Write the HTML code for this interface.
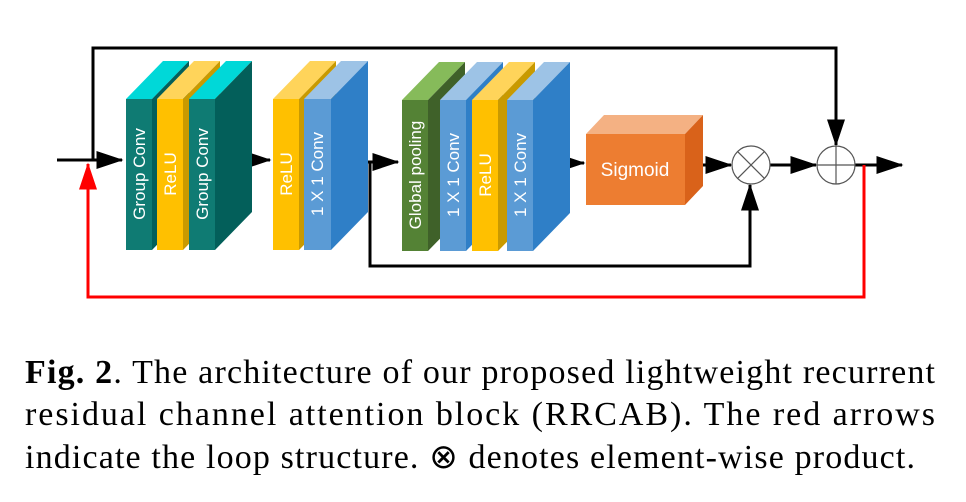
<!DOCTYPE html>
<html><head><style>body{margin:0;background:#fff}svg{display:block}</style></head><body>
<svg width="966" height="502" viewBox="0 0 966 502" xmlns="http://www.w3.org/2000/svg">
<defs>
<marker id="a" markerWidth="9" markerHeight="6" refX="8.5" refY="3" orient="auto" markerUnits="strokeWidth"><path d="M0,0 L9,3 L0,6 z" fill="#000"/></marker>
<marker id="r" markerWidth="9" markerHeight="6" refX="8.5" refY="3" orient="auto" markerUnits="strokeWidth"><path d="M0,0 L9,3 L0,6 z" fill="#f00"/></marker>
</defs>
<g fill="none" stroke-width="3">
<polyline points="93,160 93,48 836,48 836,145" stroke="#000" marker-end="url(#a)"/>
<line x1="57" y1="160" x2="122" y2="160" stroke="#000" marker-end="url(#a)"/>
<line x1="232" y1="160" x2="270" y2="160" stroke="#000" marker-end="url(#a)"/>
<line x1="356" y1="162" x2="398" y2="162" stroke="#000" marker-end="url(#a)"/>
<polyline points="370,162 370,266 750,266 750,185" stroke="#000" marker-end="url(#a)"/>
<line x1="547" y1="163" x2="584" y2="163" stroke="#000" marker-end="url(#a)"/>
<line x1="690" y1="165" x2="731" y2="165" stroke="#000" marker-end="url(#a)"/>
<line x1="770" y1="165" x2="816" y2="165" stroke="#000" marker-end="url(#a)"/>
<line x1="855" y1="165" x2="902" y2="165" stroke="#000" marker-end="url(#a)"/>
<polyline points="864,165 864,297 88,297 88,164" stroke="#f00" marker-end="url(#r)"/>
</g>
<g font-family="Liberation Sans, DejaVu Sans, sans-serif" font-size="17" fill="#fff" text-anchor="middle">
<polygon points="126,99 163,61 189,61 152,99" fill="#00d8d8"/><polygon points="152,99 189,61 189,212 152,250" fill="#035f5a"/><rect x="126" y="99" width="26" height="151" fill="#0f7b73"/>
<text transform="translate(145,174) rotate(-90)">Group Conv</text>
<polygon points="157,99 194,61 220,61 183,99" fill="#ffd45a"/><polygon points="183,99 220,61 220,212 183,250" fill="#c99a00"/><rect x="157" y="99" width="26" height="151" fill="#ffc000"/>
<text transform="translate(176,174) rotate(-90)">ReLU</text>
<polygon points="189,99 226,61 252,61 215,99" fill="#00d8d8"/><polygon points="215,99 252,61 252,212 215,250" fill="#035f5a"/><rect x="189" y="99" width="26" height="151" fill="#0f7b73"/>
<text transform="translate(208,174) rotate(-90)">Group Conv</text>
<polygon points="273,99 310,61 336,61 299,99" fill="#ffd45a"/><polygon points="299,99 336,61 336,212 299,250" fill="#c99a00"/><rect x="273" y="99" width="26" height="151" fill="#ffc000"/>
<text transform="translate(292,174) rotate(-90)">ReLU</text>
<polygon points="304,99 341,61 368,61 331,99" fill="#9dc3e6"/><polygon points="331,99 368,61 368,212 331,250" fill="#2f7fc7"/><rect x="304" y="99" width="27" height="151" fill="#5b9bd5"/>
<text transform="translate(323,174) rotate(-90)">1 X 1 Conv</text>
<polygon points="402,100 439,62 465,62 428,100" fill="#86bb5a"/><polygon points="428,100 465,62 465,213 428,251" fill="#3f6129"/><rect x="402" y="100" width="26" height="151" fill="#548235"/>
<text transform="translate(421,175) rotate(-90)">Global pooling</text>
<polygon points="440,100 477,62 503,62 466,100" fill="#9dc3e6"/><polygon points="466,100 503,62 503,213 466,251" fill="#2f7fc7"/><rect x="440" y="100" width="26" height="151" fill="#5b9bd5"/>
<text transform="translate(459,175) rotate(-90)">1 X 1 Conv</text>
<polygon points="472,100 509,62 535,62 498,100" fill="#ffd45a"/><polygon points="498,100 535,62 535,213 498,251" fill="#c99a00"/><rect x="472" y="100" width="26" height="151" fill="#ffc000"/>
<text transform="translate(491,175) rotate(-90)">ReLU</text>
<polygon points="507,100 544,62 570,62 533,100" fill="#9dc3e6"/><polygon points="533,100 570,62 570,213 533,251" fill="#2f7fc7"/><rect x="507" y="100" width="26" height="151" fill="#5b9bd5"/>
<text transform="translate(526,175) rotate(-90)">1 X 1 Conv</text>
<polygon points="586,134 604,115 703,115 685,134" fill="#f4b183"/><polygon points="685,134 703,115 703,186 685,205" fill="#d9621a"/><rect x="586" y="134" width="99" height="71" fill="#ed7d31"/>
<text x="635" y="176" font-size="19">Sigmoid</text>
</g>
<g stroke="#555" stroke-width="1.2" fill="#fff">
<circle cx="751" cy="165" r="19"/><line x1="737.6" y1="151.6" x2="764.4" y2="178.4"/><line x1="764.4" y1="151.6" x2="737.6" y2="178.4"/>
<circle cx="836" cy="165" r="19"/><line x1="817" y1="165" x2="855" y2="165"/><line x1="836" y1="146" x2="836" y2="184"/>
</g>
<g font-family="Liberation Serif, serif" font-size="34" fill="#000">
<text x="25" y="383" textLength="910" lengthAdjust="spacing"><tspan font-weight="bold">Fig. 2</tspan>. The architecture of our proposed lightweight recurrent</text>
<text x="25" y="425" textLength="910" lengthAdjust="spacing">residual channel attention block (RRCAB). The red arrows</text>
<text x="25" y="468" textLength="890" lengthAdjust="spacing">indicate the loop structure. ⊗ denotes element-wise product.</text>
</g>
</svg>
</body></html>
